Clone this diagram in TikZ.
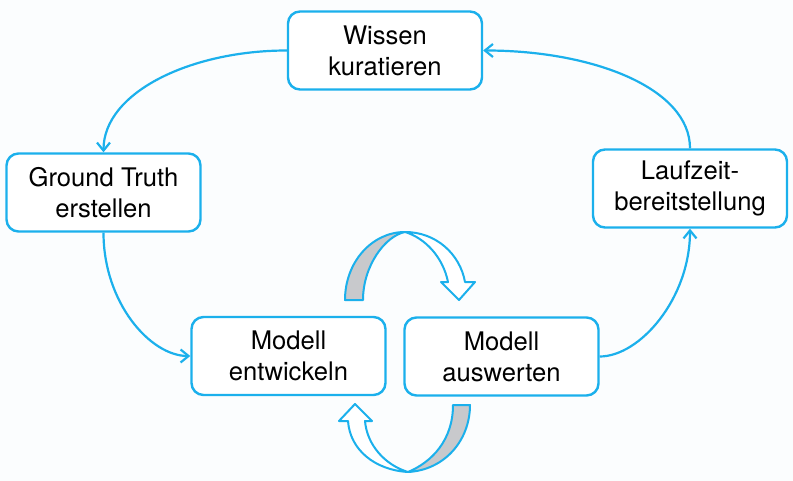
\documentclass[tikz,border=0pt]{standalone}
\usepackage{fontspec}
\setmainfont{TeX Gyre Heros}
\usepackage{xcolor}
\usetikzlibrary{arrows.meta}
\definecolor{lineblue}{RGB}{27,176,236}
\definecolor{ribbongray}{RGB}{200,201,204}
\definecolor{bgwhite}{RGB}{251,253,254}
\tikzset{
    tnode/.style = {align=center, inner sep=0pt, text centered},
    proc_node/.style = {tnode, rectangle, rounded corners=6pt, draw=lineblue, line width=1.2pt, fill=white, minimum width=97pt, minimum height=39pt, font=\fontsize{12.8}{15.5}\selectfont},
    flow/.style = {draw=lineblue, line width=1.1pt, -{Straight Barb[length=4pt,width=6.5pt]}},
    ribbon_back/.style = {draw=lineblue, line width=1pt, fill=ribbongray, line join=round},
    ribbon_front/.style = {draw=lineblue, line width=1pt, fill=white, line join=round}
}

\begin{document}
\begin{tikzpicture}[x=0.5pt, y=-0.5pt]
                    \fill [bgwhite] (0,0) rectangle (793,481);
                    \useasboundingbox (0,0) rectangle (793,481);
                    % the five steps
                    \node [proc_node] (wissen) at (385,50.5) {Wissen\\kuratieren};
                    \node [proc_node] (truth) at (103.5,192.5) {Ground Truth\\erstellen};
                    \node [proc_node] (laufzeit) at (690,188.5) {Laufzeit-\\bereitstellung};
                    \node [proc_node] (entwickeln) at (288.5,356) {Modell\\entwickeln};
                    \node [proc_node] (auswerten) at (501.5,356.5) {Modell\\auswerten};
                    % outer cycle
                    \draw [flow] (wissen.west) to[out=180, in=90, out distance=48pt, in distance=30pt] (truth.north);
                    \draw [flow] (truth.south) to[out=-90, in=180, out distance=35pt, in distance=20pt] (entwickeln.west);
                    \draw [flow] (auswerten.east) to[out=0, in=-90, out distance=20pt, in distance=35pt] (laufzeit.south);
                    \draw [flow] (laufzeit.north) to[out=90, in=0, out distance=30pt, in distance=55pt] (wissen.east);
                    % inner loop, upper arrow
                    \draw [ribbon_back] (345,300) .. controls (345,262) and (372,232) .. (405,232)
                        .. controls (385,236) and (363,266) .. (363,300) -- cycle;
                    \draw [ribbon_front] (405,232) .. controls (436,232) and (460,254) .. (465,282)
                        -- (475,282) -- (459,300) -- (441,282) -- (448,282)
                        .. controls (443,257) and (425,238) .. (405,232) -- cycle;
                    % inner loop, lower arrow
                    \draw [ribbon_back] (470,405) .. controls (470,440) and (445,470) .. (408,472)
                        .. controls (432,462) and (453,440) .. (453,405) -- cycle;
                    \draw [ribbon_front] (408,472) .. controls (375,470) and (350,450) .. (348,421)
                        -- (339,421) -- (355,404) -- (372,421) -- (365,421)
                        .. controls (367,445) and (385,465) .. (408,472) -- cycle;
\end{tikzpicture}
\end{document}
